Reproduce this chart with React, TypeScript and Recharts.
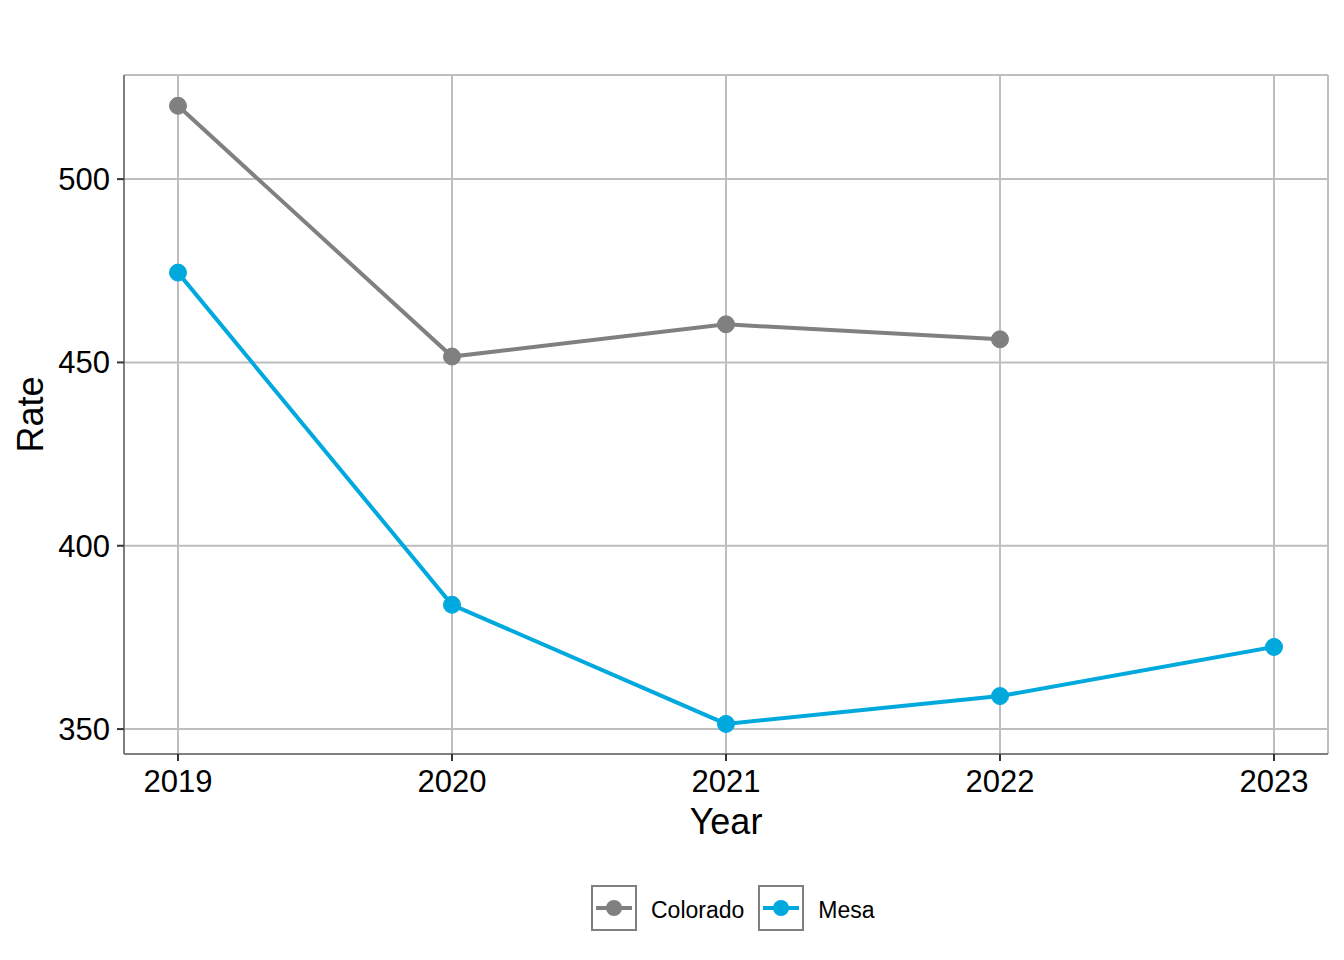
import React from "react";
import { LineChart, Line, XAxis, YAxis, CartesianGrid } from "recharts";

const years = [2019, 2020, 2021, 2022, 2023];
const coloradoRates = [520, 451.6, 460.4, 456.3, null];
const mesaRates = [474.5, 383.9, 351.4, 359.0, 372.4];
const yTicks = [350, 400, 450, 500];
const seriesNames = ["Colorado", "Mesa"];
const seriesColors = ["#808080", "#00A9DD"];

const data = years.map((y, i) => ({ year: y, colorado: coloradoRates[i], mesa: mesaRates[i] }));

const FONT = "'Liberation Sans', Arial, sans-serif";
const BORDER = "#7F7F7F";
const GRID = "#BEBEBE";
const TICK = "#333333";

function LegendKey({ color }: { color: string }) {
  return (
    <svg width={46} height={46} style={{ display: "block" }}>
      <rect x={1} y={1} width={44} height={44} fill="#fff" stroke={BORDER} strokeWidth={2} />
      <line x1={5} y1={23} x2={41} y2={23} stroke={color} strokeWidth={4} />
      <circle cx={23} cy={23} r={8} fill={color} />
    </svg>
  );
}

export default function App() {
  return (
    <div style={{ position: "absolute", left: 0, top: 0, width: 1344, height: 960, background: "#fff", fontFamily: FONT }}>
      <LineChart
        width={1344}
        height={960}
        data={data}
        margin={{ top: 75, right: 16, bottom: 126, left: 24 }}
      >
        <CartesianGrid stroke={GRID} strokeWidth={2} />
        <XAxis
          dataKey="year"
          type="number"
          domain={[2018.803, 2023.197]}
          ticks={years}
          allowDataOverflow
          height={80}
          tickSize={7}
          tickMargin={9}
          axisLine={{ stroke: BORDER, strokeWidth: 2 }}
          tickLine={{ stroke: TICK, strokeWidth: 2 }}
          tick={{ fill: "#000", fontSize: 31, fontFamily: FONT }}
          label={{ value: "Year", position: "insideBottom", offset: 0, fill: "#000", fontSize: 36, fontFamily: FONT }}
        />
        <XAxis
          xAxisId="top"
          orientation="top"
          dataKey="year"
          type="number"
          domain={[2018.803, 2023.197]}
          height={0}
          tick={false}
          tickLine={false}
          axisLine={{ stroke: BORDER, strokeWidth: 2 }}
        />
        <YAxis
          type="number"
          domain={[343.2, 528.4]}
          ticks={yTicks}
          allowDataOverflow
          width={100}
          tickSize={7}
          tickMargin={7}
          axisLine={{ stroke: BORDER, strokeWidth: 2 }}
          tickLine={{ stroke: TICK, strokeWidth: 2 }}
          tick={{ fill: "#000", fontSize: 31, fontFamily: FONT }}
          label={{ value: "Rate", angle: -90, position: "insideLeft", offset: 6, fill: "#000", fontSize: 36, fontFamily: FONT, style: { textAnchor: "middle" } }}
        />
        <YAxis
          yAxisId="right"
          orientation="right"
          type="number"
          domain={[343.2, 528.4]}
          width={0}
          tick={false}
          tickLine={false}
          axisLine={{ stroke: BORDER, strokeWidth: 2 }}
        />
        <Line
          dataKey="colorado"
          name={seriesNames[0]}
          stroke={seriesColors[0]}
          strokeWidth={4}
          dot={{ r: 8.5, fill: seriesColors[0], stroke: seriesColors[0], strokeWidth: 1 }}
          isAnimationActive={false}
        />
        <Line
          dataKey="mesa"
          name={seriesNames[1]}
          stroke={seriesColors[1]}
          strokeWidth={4}
          dot={{ r: 8.5, fill: seriesColors[1], stroke: seriesColors[1], strokeWidth: 1 }}
          isAnimationActive={false}
        />
      </LineChart>
      <div style={{ position: "absolute", left: 591, top: 885, display: "flex", alignItems: "center" }}>
        {seriesNames.map((n, i) => (
          <div key={n} style={{ display: "flex", alignItems: "center", marginRight: i === 0 ? 14 : 0 }}>
            <LegendKey color={seriesColors[i]} />
            <span style={{ fontSize: 23, marginLeft: 14, color: "#000", position: "relative", top: 2 }}>{n}</span>
          </div>
        ))}
      </div>
    </div>
  );
}
